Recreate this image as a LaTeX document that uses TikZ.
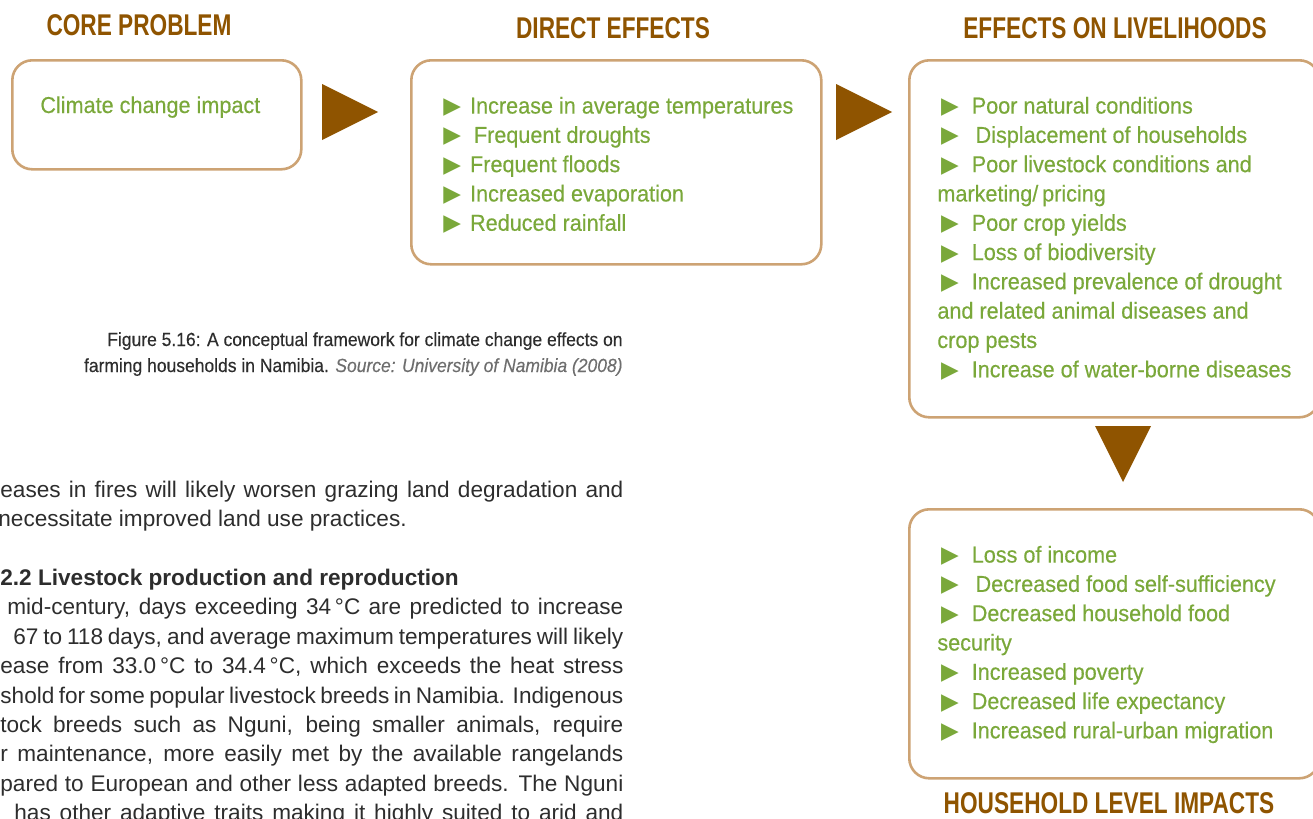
\documentclass[tikz,border=0pt]{standalone}
\usepackage{fontspec}
\setmainfont{Liberation Sans}
\newfontfamily\headfont{Liberation Sans}[FakeStretch=0.755]
\newfontfamily\listfont{Liberation Sans}[FakeStretch=0.94, FakeBold=0.4]
\newfontfamily\capfont{Liberation Sans}[FakeStretch=0.92, FakeBold=0.3]
\newfontfamily\markfont{DejaVu Sans}
\newcommand{\tri}{{\markfont\fontsize{11.5}{10}\selectfont ▶}\hspace{1.5pt}}
\usetikzlibrary{positioning}
\definecolor{headbrown}{RGB}{143,84,0}
\definecolor{leafgreen}{RGB}{122,168,58}
\definecolor{boxtan}{RGB}{205,163,116}
\definecolor{bodygray}{RGB}{45,45,45}
\definecolor{srcgray}{RGB}{110,110,110}
\tikzstyle{heading} = [font=\headfont\bfseries\fontsize{15}{18}\selectfont, text=headbrown, inner sep=0pt, anchor=base]
\tikzstyle{frame} = [draw=boxtan, line width=1.3pt, rounded corners=10pt, inner sep=0pt, anchor=north west]
\tikzstyle{items} = [font=\listfont\fontsize{11.5}{14.65}\selectfont, text=leafgreen, align=left, inner sep=0pt, anchor=north west]
\tikzstyle{caption} = [font=\capfont\fontsize{9.5}{13}\selectfont, text=bodygray, inner sep=0pt, anchor=base east]
\tikzstyle{bodyline} = [font=\fontsize{11.3}{14.7}\selectfont, text=bodygray, inner sep=0pt, anchor=base west]
\tikzstyle{pointer} = [fill=headbrown]

\begin{document}
\begin{tikzpicture}[x=0.5pt, y=-0.5pt]
  \useasboundingbox (0,0) rectangle (1313,819);

  % Headings
  \node[heading] (h_core) at (139,35) {CORE PROBLEM};
  \node[heading] (h_direct) at (613,39) {DIRECT EFFECTS};
  \node[heading] (h_liveli) at (1115,39) {EFFECTS ON LIVELIHOODS};
  \node[heading] (h_house) at (1109,813) {HOUSEHOLD LEVEL IMPACTS};

  % Boxes
  \node[frame, minimum width=144.5pt, minimum height=54.5pt] (core) at (11,59) {};
  \node[frame, minimum width=205pt, minimum height=102pt] (direct) at (410,59) {};
  \node[frame, minimum width=205pt, minimum height=178.5pt] (liveli) at (908,59) {};
  \node[frame, minimum width=205pt, minimum height=134.5pt] (house) at (908,508) {};

  % Box contents
  \node[items, anchor=base west] (core_txt) at (40,113) {Climate change impact};
  \node[items] (direct_txt) at (443,96.5) {%
    \tri{} Increase in average temperatures\\
    \tri{} \,Frequent droughts\\
    \tri{} Frequent floods\\
    \tri{} Increased evaporation\\
    \tri{} Reduced rainfall};
  \node[items] (liveli_txt) at (937,96.5) {%
    \,\tri{} \,Poor natural conditions\\
    \,\tri{} \,\,Displacement of households\\
    \,\tri{} \,Poor livestock conditions and\\
    marketing/\,pricing\\
    \,\tri{} \,Poor crop yields\\
    \,\tri{} \,Loss of biodiversity\\
    \,\tri{} \,Increased prevalence of drought\\
    and related animal diseases and\\
    crop pests\\
    \,\tri{} \,Increase of water-borne diseases};
  \node[items] (house_txt) at (937,545.5) {%
    \,\tri{} \,Loss of income\\
    \,\tri{} \,\,Decreased food self-sufficiency\\
    \,\tri{} \,Decreased household food\\
    security\\
    \,\tri{} \,Increased poverty\\
    \,\tri{} \,Decreased life expectancy\\
    \,\tri{} \,Increased rural-urban migration};

  % Pointers between boxes
  \fill[pointer] (322,84) -- (378,112) -- (322,140) -- cycle;
  \fill[pointer] (836,84) -- (892,112) -- (836,140) -- cycle;
  \fill[pointer] (1095,426) -- (1151,426) -- (1123,482) -- cycle;

  % Caption
  \node[caption] (cap1) at (623,346) {Figure 5.16: A conceptual framework for climate change effects on};
  \node[caption] (cap2) at (623,372) {farming households in Namibia. {\itshape\color{srcgray}Source: University of Namibia (2008)}};

  % Running text (cut at the page edge)
  \node[bodyline] (body1) at (0,497) {\makebox[311.5pt][s]{eases in fires will likely worsen grazing land degradation and}};
  \node[bodyline] (body2) at (-2,526) {necessitate improved land use practices.};
  \node[bodyline, font=\bfseries\fontsize{11.3}{14.7}\selectfont] (body3) at (0,585) {2.2 Livestock production and reproduction};
  \node[bodyline] (body4) at (7,614) {\makebox[308pt][s]{mid-century, days exceeding 34\,°C are predicted to increase}};
  \node[bodyline] (body5) at (13,644) {\makebox[305pt][s]{67 to 118 days, and average maximum temperatures will likely}};
  \node[bodyline] (body6) at (0,673) {\makebox[311.5pt][s]{ease from 33.0\,°C to 34.4\,°C, which exceeds the heat stress}};
  \node[bodyline] (body7) at (0,703) {\makebox[311.5pt][s]{shold for some popular livestock breeds in Namibia. Indigenous}};
  \node[bodyline] (body8) at (0,732) {\makebox[311.5pt][s]{tock breeds such as Nguni, being smaller animals, require}};
  \node[bodyline] (body9) at (0,761) {\makebox[311.5pt][s]{r maintenance, more easily met by the available rangelands}};
  \node[bodyline] (body10) at (0,791) {\makebox[311.5pt][s]{pared to European and other less adapted breeds. The Nguni}};
  \node[bodyline] (body11) at (14,820) {\makebox[304.5pt][s]{has other adaptive traits making it highly suited to arid and}};

\end{tikzpicture}
\end{document}
